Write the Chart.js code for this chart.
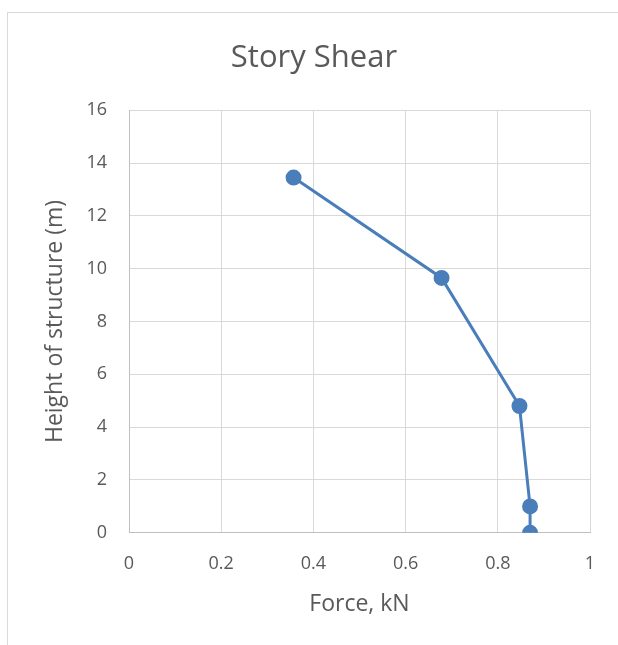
<!DOCTYPE html>
<html>
<head>
<meta charset="utf-8">
<script src="https://cdn.jsdelivr.net/npm/chart.js@4"></script>
<style>
  html, body { margin: 0; padding: 0; background: #ffffff; }
  #wrap { position: relative; width: 618px; height: 645px; overflow: hidden; }
  #frame { position: absolute; left: 7px; top: 12px; width: 640px; height: 660px; border: 1px solid #d9d9d9; box-sizing: border-box; }
  canvas { position: absolute; left: 0; top: 0; }
</style>
</head>
<body>
<div id="wrap">
  <div id="frame"></div>
  <canvas id="chart" width="618" height="645"></canvas>
</div>
<script>
// values
const force = [0.87, 0.87, 0.847, 0.678, 0.357];
const height = [0, 1.0, 4.8, 9.65, 13.45];
const xTicks = [0, 0.2, 0.4, 0.6, 0.8, 1];
const yTicks = [0, 2, 4, 6, 8, 10, 12, 14, 16];

const textColor = '#595959';
const gridColor = '#d9d9d9';
const fontFamily = "'Open Sans', 'Noto Sans', sans-serif";

const points = force.map((f, i) => ({ x: f, y: height[i] }));

Chart.defaults.font.family = fontFamily;
Chart.defaults.color = textColor;

new Chart(document.getElementById('chart'), {
  type: 'scatter',
  data: {
    datasets: [{
      label: 'Story Shear',
      data: points,
      showLine: true,
      borderColor: '#4a7ebb',
      backgroundColor: '#4a7ebb',
      borderWidth: 3,
      pointRadius: 6.5,
      pointHoverRadius: 6.5
    }]
  },
  options: {
    responsive: false,
    animation: false,
    layout: { padding: { left: 38, right: 28, top: 40, bottom: 23 } },
    plugins: {
      legend: { display: false },
      tooltip: { enabled: false },
      title: {
        display: true,
        text: 'Story Shear',
        color: textColor,
        font: { size: 31, weight: 'normal' },
        padding: { top: 0, bottom: 33 }
      }
    },
    scales: {
      x: {
        type: 'linear',
        min: 0,
        max: 1,
        afterBuildTicks: s => { s.ticks = xTicks.map(v => ({ value: v })); },
        ticks: {
          font: { size: 18 }, color: textColor, padding: 20, maxRotation: 0,
          callback: v => String(Math.round(v * 10) / 10)
        },
        grid: { color: gridColor, drawTicks: false, lineWidth: 1 },
        border: { color: '#bfbfbf' },
        title: { display: true, text: 'Force, kN', color: textColor, font: { size: 23 }, padding: { top: -4 } }
      },
      y: {
        type: 'linear',
        min: 0,
        max: 16,
        afterBuildTicks: s => { s.ticks = yTicks.map(v => ({ value: v })); },
        afterFit: s => { s.width = 91; },
        ticks: { font: { size: 18 }, color: textColor, padding: 22 },
        grid: { color: gridColor, drawTicks: false, lineWidth: 1 },
        border: { color: '#bfbfbf' },
        title: { display: true, text: 'Height of structure (m)', color: textColor, font: { size: 23 }, padding: { bottom: 0 } }
      }
    }
  }
});
</script>
</body>
</html>
